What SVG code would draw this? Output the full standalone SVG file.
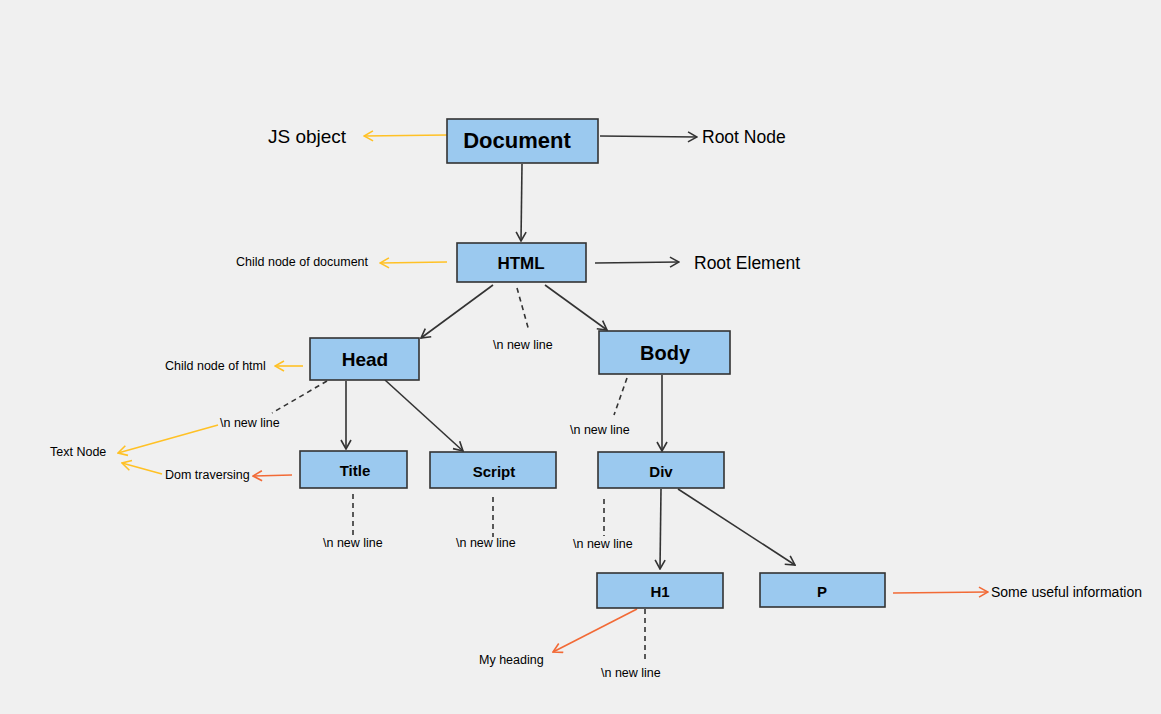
<svg xmlns="http://www.w3.org/2000/svg" width="1161" height="714" viewBox="0 0 1161 714">
<style>
.bg{fill:#f0f0f0}
.box{fill:#9bc9ef;stroke:#333;stroke-width:1.6}
.bt{font-family:"Liberation Sans",Arial,sans-serif;font-weight:bold;fill:#000;text-anchor:middle;dominant-baseline:central}
.t{font-family:"Liberation Sans",Arial,sans-serif;fill:#000;dominant-baseline:central}
.k{stroke:#333;stroke-width:1.6;fill:none}
.y{stroke:#ffc125;stroke-width:1.6;fill:none}
.o{stroke:#f26a36;stroke-width:1.6;fill:none}
.d{stroke:#333;stroke-width:1.6;fill:none;stroke-dasharray:5,4}
</style>
<defs>
<marker id="ak" viewBox="0 0 12 12" refX="11" refY="6" markerWidth="12" markerHeight="12" markerUnits="userSpaceOnUse" orient="auto"><path d="M2,1 L11,6 L2,11" fill="none" stroke="#333" stroke-width="1.6"/></marker>
<marker id="ay" viewBox="0 0 12 12" refX="11" refY="6" markerWidth="12" markerHeight="12" markerUnits="userSpaceOnUse" orient="auto"><path d="M2,1 L11,6 L2,11" fill="none" stroke="#ffc125" stroke-width="1.6"/></marker>
<marker id="ao" viewBox="0 0 12 12" refX="11" refY="6" markerWidth="12" markerHeight="12" markerUnits="userSpaceOnUse" orient="auto"><path d="M2,1 L11,6 L2,11" fill="none" stroke="#f26a36" stroke-width="1.6"/></marker>
</defs>
<rect class="bg" x="0" y="0" width="1161" height="714"/>
<g id="connectors">
<line class="y" x1="447" y1="135" x2="364" y2="136" marker-end="url(#ay)"/>
<line class="k" x1="600" y1="136" x2="697" y2="137" marker-end="url(#ak)"/>
<line class="k" x1="522" y1="164" x2="521" y2="241" marker-end="url(#ak)"/>
<line class="y" x1="447" y1="262" x2="380" y2="263" marker-end="url(#ay)"/>
<line class="k" x1="595" y1="263" x2="679" y2="262" marker-end="url(#ak)"/>
<line class="k" x1="493" y1="285" x2="421" y2="338" marker-end="url(#ak)"/>
<line class="d" x1="517" y1="288" x2="529" y2="331"/>
<line class="k" x1="545" y1="285" x2="607" y2="330" marker-end="url(#ak)"/>
<line class="y" x1="303" y1="366" x2="275" y2="366" marker-end="url(#ay)"/>
<line class="d" x1="327" y1="381" x2="272" y2="413"/>
<line class="y" x1="218" y1="425" x2="118" y2="453" marker-end="url(#ay)"/>
<line class="y" x1="162" y1="474" x2="122" y2="463" marker-end="url(#ay)"/>
<line class="o" x1="292" y1="475" x2="253" y2="476" marker-end="url(#ao)"/>
<line class="k" x1="346" y1="381" x2="346" y2="449" marker-end="url(#ak)"/>
<line class="k" x1="385" y1="380" x2="463" y2="451" marker-end="url(#ak)"/>
<line class="d" x1="353" y1="494" x2="353" y2="536"/>
<line class="d" x1="493" y1="497" x2="493" y2="537"/>
<line class="d" x1="627" y1="378" x2="614" y2="415"/>
<line class="k" x1="662" y1="375" x2="662" y2="451" marker-end="url(#ak)"/>
<line class="d" x1="604" y1="499" x2="604" y2="536"/>
<line class="k" x1="661" y1="489" x2="660" y2="569" marker-end="url(#ak)"/>
<line class="k" x1="678" y1="489" x2="795" y2="565" marker-end="url(#ak)"/>
<line class="o" x1="893" y1="593" x2="988" y2="592" marker-end="url(#ao)"/>
<line class="o" x1="637" y1="609" x2="553" y2="652" marker-end="url(#ao)"/>
<line class="d" x1="645" y1="609" x2="645" y2="663"/>
</g>
<g id="document"><rect class="box" x="447" y="119" width="151" height="44"/><text class="bt" x="517" y="140" font-size="22">Document</text></g>
<g id="html"><rect class="box" x="457" y="243" width="129" height="39"/><text class="bt" x="521" y="263" font-size="17">HTML</text></g>
<g id="head"><rect class="box" x="310" y="338" width="109" height="42"/><text class="bt" x="365" y="359" font-size="19">Head</text></g>
<g id="body"><rect class="box" x="599" y="331" width="131" height="43"/><text class="bt" x="665" y="353" font-size="20">Body</text></g>
<g id="title"><rect class="box" x="300" y="451" width="107" height="37"/><text class="bt" x="355" y="470" font-size="15">Title</text></g>
<g id="script"><rect class="box" x="430" y="452" width="126" height="36"/><text class="bt" x="494" y="471" font-size="15">Script</text></g>
<g id="div"><rect class="box" x="598" y="452" width="126" height="36"/><text class="bt" x="661" y="471" font-size="15">Div</text></g>
<g id="h1"><rect class="box" x="597" y="573" width="126" height="35"/><text class="bt" x="660" y="591" font-size="15">H1</text></g>
<g id="p"><rect class="box" x="760" y="573" width="125" height="34"/><text class="bt" x="822" y="591" font-size="15">P</text></g>
<g id="labels">
<text class="t" x="268" y="136" font-size="19">JS object</text>
<text class="t" x="702" y="137" font-size="17.5">Root Node</text>
<text class="t" x="236" y="262" font-size="12.5">Child node of document</text>
<text class="t" x="694" y="263" font-size="17.5">Root Element</text>
<text class="t" x="493" y="345" font-size="12.5">\n new line</text>
<text class="t" x="165" y="366" font-size="12.5">Child node of html</text>
<text class="t" x="220" y="423" font-size="12.5">\n new line</text>
<text class="t" x="50" y="452" font-size="12.5">Text Node</text>
<text class="t" x="165" y="475" font-size="12.5">Dom traversing</text>
<text class="t" x="323" y="543" font-size="12.5">\n new line</text>
<text class="t" x="456" y="543" font-size="12.5">\n new line</text>
<text class="t" x="570" y="430" font-size="12.5">\n new line</text>
<text class="t" x="573" y="544" font-size="12.5">\n new line</text>
<text class="t" x="991" y="592" font-size="14">Some useful information</text>
<text class="t" x="479" y="660" font-size="12.5">My heading</text>
<text class="t" x="601" y="673" font-size="12.5">\n new line</text>
</g>
</svg>
